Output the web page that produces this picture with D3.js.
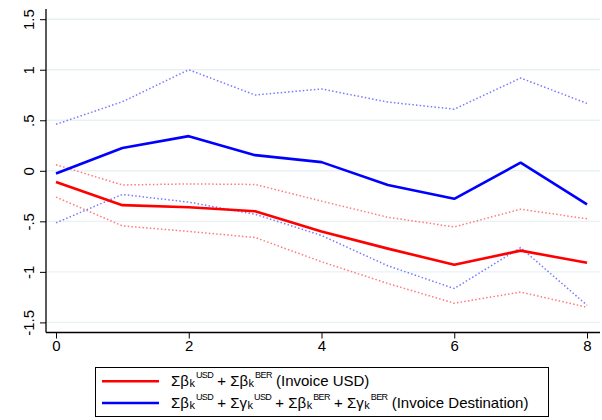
<!DOCTYPE html>
<html>
<head>
<meta charset="utf-8">
<script src="https://cdn.jsdelivr.net/npm/d3@7"></script>
<style>
  body { margin: 0; background: #fff; }
  text { font-family: "Liberation Sans", Arial, sans-serif; }
</style>
</head>
<body>
<svg width="602" height="420"></svg>
<script>
// horizons k = 0..8
const horizons = [0, 1, 2, 3, 4, 5, 6, 7, 8];

// invoice USD: point estimate and 95% bands
const usdEst   = [-0.11, -0.34, -0.36, -0.40, -0.60, -0.77, -0.93, -0.79, -0.91];
const usdUpper = [0.06, -0.14, -0.13, -0.135, -0.30, -0.46, -0.555, -0.38, -0.475];
const usdLower = [-0.26, -0.545, -0.60, -0.66, -0.90, -1.115, -1.31, -1.20, -1.35];

// invoice destination: point estimate and 95% bands
const destEst   = [-0.026, 0.225, 0.343, 0.155, 0.086, -0.14, -0.277, 0.08, -0.333];
const destUpper = [0.46, 0.683, 1.0, 0.75, 0.81, 0.68, 0.61, 0.918, 0.667];
const destLower = [-0.515, -0.234, -0.31, -0.43, -0.64, -0.94, -1.165, -0.76, -1.33];

const yTicks = [-1.5, -1, -0.5, 0, 0.5, 1, 1.5];
const yTickLabels = ["-1.5", "-1", "-.5", "0", ".5", "1", "1.5"];
const xTicks = [0, 2, 4, 6, 8];

const svg = d3.select('svg');

const x = d3.scaleLinear().domain([0, 8]).range([56, 587]);
const y = d3.scaleLinear().domain([-1.5, 1.5]).range([322.4, 19.2]);

const axisX = 46, axisY = 332.5, plotRight = 600, plotTop = 9;

// gridlines
svg.append('g')
    .selectAll('line')
    .data(yTicks)
    .join('line')
    .attr('x1', axisX)
    .attr('x2', plotRight)
    .attr('y1', d => y(d))
    .attr('y2', d => y(d))
    .attr('stroke', '#eaf1f3')
    .attr('stroke-width', 1.4);

// y axis
const yAxis = svg.append('g')
    .attr('transform', `translate(${axisX},0)`)
    .call(d3.axisLeft(y).tickValues(yTicks).tickSize(6)
        .tickFormat((d, i) => yTickLabels[i]));
yAxis.select('.domain').attr('d', `M0,${plotTop}V${axisY}`).attr('stroke', '#000').attr('stroke-width', 1.3);
yAxis.selectAll('.tick line').attr('stroke', '#000').attr('stroke-width', 1);
yAxis.selectAll('.tick text')
    .attr('font-size', 15)
    .attr('fill', '#000')
    .attr('text-anchor', 'middle')
    .attr('x', null)
    .attr('dy', null)
    .attr('transform', 'translate(-12.5,0) rotate(-90)');

// x axis
const xAxis = svg.append('g')
    .attr('transform', `translate(0,${axisY})`)
    .call(d3.axisBottom(x).tickValues(xTicks).tickSize(6).tickFormat(d3.format('d')));
xAxis.select('.domain').attr('d', `M${axisX},0H${plotRight}`).attr('stroke', '#000').attr('stroke-width', 1.3);
xAxis.selectAll('.tick line').attr('stroke', '#000').attr('stroke-width', 1);
xAxis.selectAll('.tick text')
    .attr('font-size', 15)
    .attr('fill', '#000')
    .attr('y', 8)
    .attr('dy', '0.71em');

// lines
const line = d3.line().x((d, i) => x(horizons[i])).y(d => y(d));

function drawDotted(vals, col) {
    svg.append('path')
        .attr('d', line(vals))
        .attr('fill', 'none')
        .attr('stroke', col)
        .attr('stroke-width', 1.5)
        .attr('stroke-dasharray', '1.5,2.2');
}
function drawSolid(vals, col) {
    svg.append('path')
        .attr('d', line(vals))
        .attr('fill', 'none')
        .attr('stroke', col)
        .attr('stroke-width', 2.6)
        .attr('stroke-linejoin', 'round');
}

drawDotted(usdUpper, '#ff7a7a');
drawDotted(usdLower, '#ff7a7a');
drawDotted(destUpper, '#7a7aff');
drawDotted(destLower, '#7a7aff');
drawSolid(usdEst, '#ff0000');
drawSolid(destEst, '#0000ff');

// legend
const legend = svg.append('g');
legend.append('rect')
    .attr('x', 95.5).attr('y', 367.5)
    .attr('width', 453).attr('height', 49)
    .attr('fill', '#fff').attr('stroke', '#000').attr('stroke-width', 1);

// pieces: [main text], or [subscript, superscript]
const row1 = [['Σβ'], ['k', 'USD'], [' + Σβ'], ['k', 'BER'], [' (Invoice USD)']];
const row2 = [['Σβ'], ['k', 'USD'], [' + Σγ'], ['k', 'USD'], [' + Σβ'], ['k', 'BER'],
              [' + Σγ'], ['k', 'BER'], [' (Invoice Destination)']];

function legendRow(pieces, yb, col) {
    legend.append('line')
        .attr('x1', 102).attr('x2', 159)
        .attr('y1', yb - 4.8).attr('y2', yb - 4.8)
        .attr('stroke', col).attr('stroke-width', 2.6);
    const t = legend.append('text')
        .attr('x', 171).attr('y', yb)
        .attr('font-size', 15)
        .attr('xml:space', 'preserve');
    let off = 0; // current baseline shift
    pieces.forEach(p => {
        if (p.length === 1) {
            t.append('tspan').attr('dy', -off).text(p[0]);
            off = 0;
        } else {
            t.append('tspan').attr('dy', 1 - off).attr('dx', 0.5)
                .attr('font-size', 11).text(p[0]);
            t.append('tspan').attr('dy', -9).attr('dx', 1)
                .attr('font-size', 9).attr('letter-spacing', -0.6).text(p[1]);
            off = -8;
        }
    });
}
legendRow(row1, 386, '#ff0000');
legendRow(row2, 407.8, '#0000ff');
</script>
</body>
</html>
